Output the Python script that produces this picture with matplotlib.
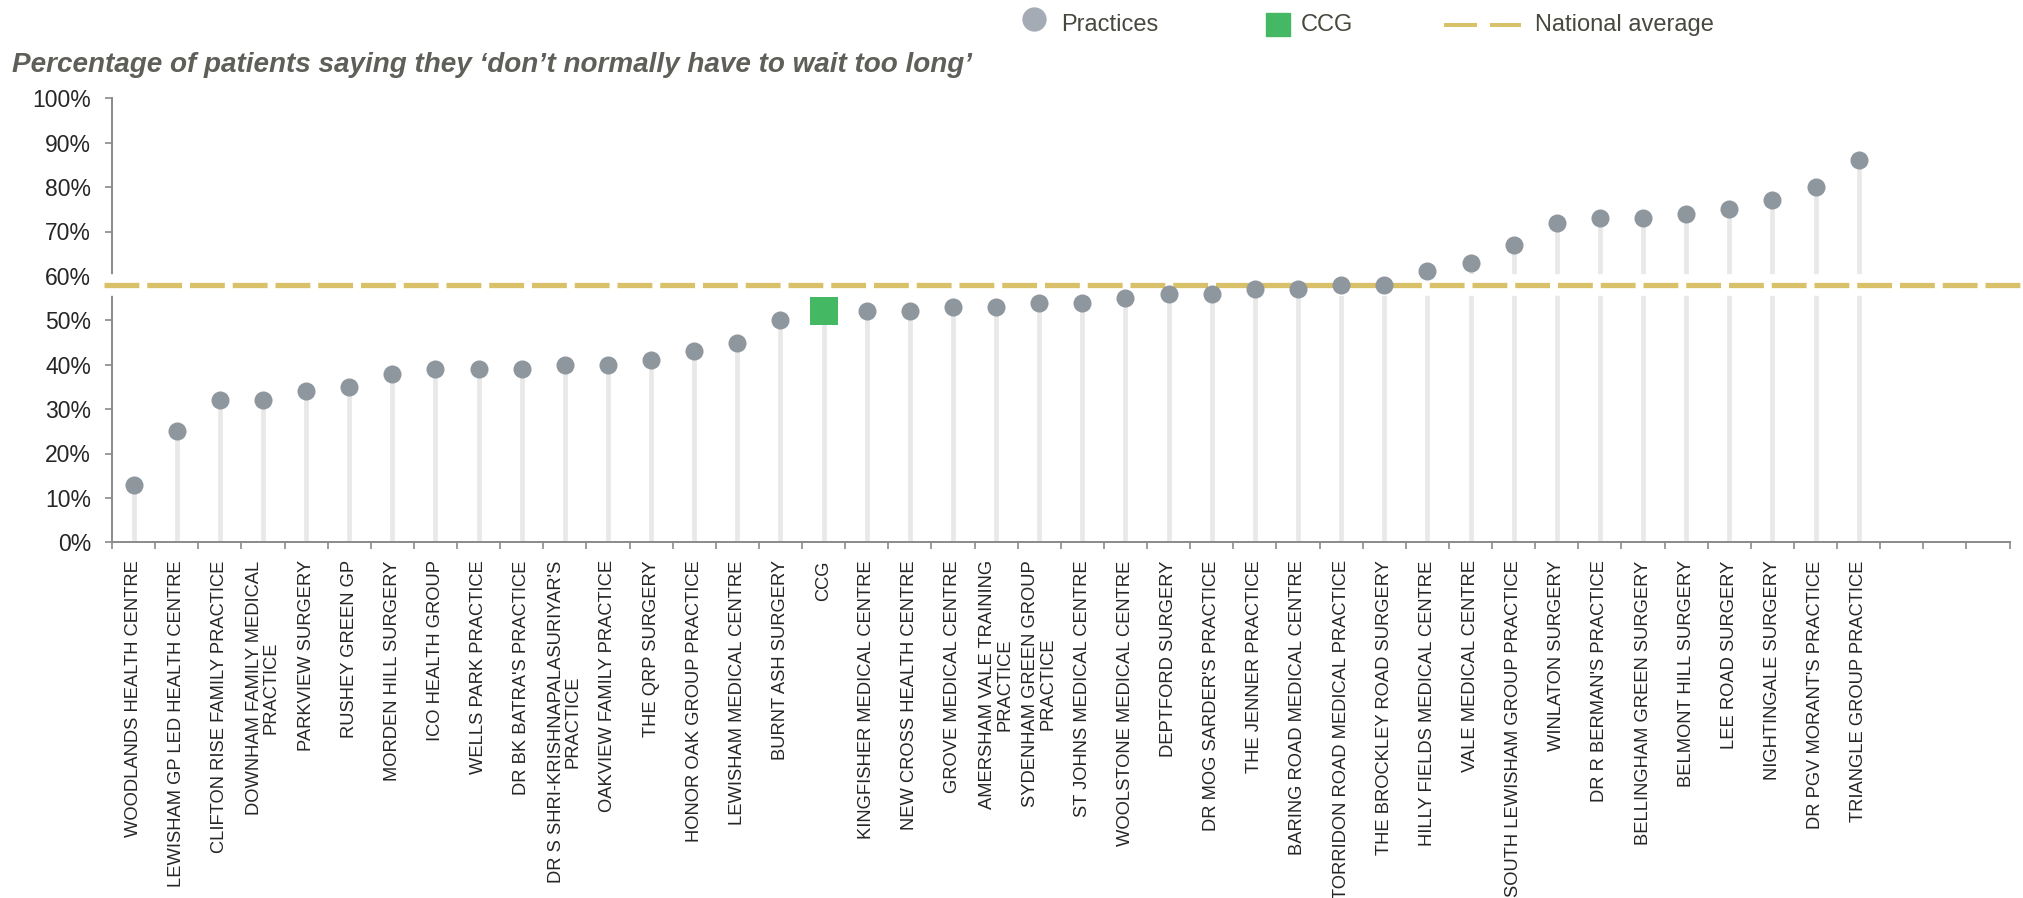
import matplotlib
matplotlib.use("Agg")
import matplotlib.pyplot as plt
from matplotlib.lines import Line2D
from matplotlib.patches import Rectangle

plt.rcParams['font.family'] = ['Liberation Sans', 'DejaVu Sans']

# data (percent)
practices = [
    "WOODLANDS HEALTH CENTRE",
    "LEWISHAM GP LED HEALTH CENTRE",
    "CLIFTON RISE FAMILY PRACTICE",
    "DOWNHAM FAMILY MEDICAL\nPRACTICE",
    "PARKVIEW SURGERY",
    "RUSHEY GREEN GP",
    "MORDEN HILL SURGERY",
    "ICO HEALTH GROUP",
    "WELLS PARK PRACTICE",
    "DR BK BATRA'S PRACTICE",
    "DR S SHRI-KRISHNAPALASURIYAR'S\nPRACTICE",
    "OAKVIEW FAMILY PRACTICE",
    "THE QRP SURGERY",
    "HONOR OAK GROUP PRACTICE",
    "LEWISHAM MEDICAL CENTRE",
    "BURNT ASH SURGERY",
    "CCG",
    "KINGFISHER MEDICAL CENTRE",
    "NEW CROSS HEALTH CENTRE",
    "GROVE MEDICAL CENTRE",
    "AMERSHAM VALE TRAINING\nPRACTICE",
    "SYDENHAM GREEN GROUP\nPRACTICE",
    "ST JOHNS MEDICAL CENTRE",
    "WOOLSTONE MEDICAL CENTRE",
    "DEPTFORD SURGERY",
    "DR MOG SARDER'S PRACTICE",
    "THE JENNER PRACTICE",
    "BARING ROAD MEDICAL CENTRE",
    "TORRIDON ROAD MEDICAL PRACTICE",
    "THE BROCKLEY ROAD SURGERY",
    "HILLY FIELDS MEDICAL CENTRE",
    "VALE MEDICAL CENTRE",
    "SOUTH LEWISHAM GROUP PRACTICE",
    "WINLATON SURGERY",
    "DR R BERMAN'S PRACTICE",
    "BELLINGHAM GREEN SURGERY",
    "BELMONT HILL SURGERY",
    "LEE ROAD SURGERY",
    "NIGHTINGALE SURGERY",
    "DR PGV MORANT'S PRACTICE",
    "TRIANGLE GROUP PRACTICE",
]
values = [13, 25, 32, 32, 34, 35, 38, 39, 39, 39, 40, 40, 41, 43, 45, 50, 52,
          52, 52, 53, 53, 54, 54, 55, 56, 56, 57, 57, 58, 58, 61, 63, 67, 72,
          73, 73, 74, 75, 77, 80, 86]
national_average = 58
n_slots = 44  # axis has three empty category slots at the end

title = "Percentage of patients saying they \u2018don\u2019t normally have to wait too long\u2019"

grey_dot = '#8e969e'
stem_col = '#e8e8e8'
ccg_green = '#44b862'
gold = '#d9c169'
axis_col = '#8a8a8a'
text_col = '#262626'
legend_text = '#48483f'

fig = plt.figure(figsize=(20.24, 8.98), dpi=100)
ax = fig.add_axes([112 / 2024, 1 - 542.3 / 898, 1897.6 / 2024, 444 / 898])

x = list(range(len(practices)))
xp = [i for i in x if practices[i] != 'CCG']
yp = [values[i] for i in xp]
xc = [i for i in x if practices[i] == 'CCG']
yc = [values[i] for i in xc]

# stems
ax.vlines(x, 0, values, color=stem_col, lw=3.4, zorder=1)

# national average: white halo then dashed gold line
ax.axhline(national_average, xmin=-0.0044, xmax=1.008, color='white', lw=15.6,
           zorder=2.6, clip_on=False)
ax.axhline(national_average, xmin=-0.0044, xmax=1.008, color=gold, lw=3.8,
           dashes=(6.6, 1.5), zorder=2.7, clip_on=False)

ax.plot(xp, yp, 'o', ms=13, color=grey_dot, mew=0, zorder=5, clip_on=False)
ax.plot(xc, yc, 's', ms=20.5, color=ccg_green, mew=0, zorder=5, clip_on=False)

ax.set_xlim(-0.5, n_slots - 0.5)
ax.set_ylim(0, 100)
ax.set_yticks(range(0, 101, 10))
ax.set_yticklabels([f"{v}%" for v in range(0, 101, 10)], fontsize=16.5, color=text_col)
ax.set_xticks(x)
ax.set_xticklabels(practices, rotation=90, fontsize=13.2, color=text_col,
                   linespacing=1.0)
for t in ax.get_xticklabels():
    t.set_multialignment('center')
ax.set_xticks([i - 0.5 for i in range(n_slots + 1)], minor=True)
ax.tick_params(axis='x', which='major', length=0, pad=13)
ax.tick_params(axis='x', which='minor', length=5, width=1.2, color=axis_col)
ax.tick_params(axis='y', length=5, width=1.2, color=axis_col, pad=10)

for s in ['top', 'right']:
    ax.spines[s].set_visible(False)
for s in ['left', 'bottom']:
    ax.spines[s].set_color(axis_col)
    ax.spines[s].set_linewidth(1.4)

fig.text(12 / 2024, 1 - 72 / 898, title, fontsize=20.1, fontweight='bold',
         fontstyle='italic', color='#5f5f5a', ha='left', va='baseline')


# legend drawn in figure pixels
def fx(px):
    return px / 2024


def fy(py):
    return 1 - py / 898


leg_y = 25
fig.add_artist(Line2D([fx(1034)], [fy(19)], marker='o', ms=17.5, color='#a4abb5',
                      mew=0, transform=fig.transFigure))
fig.text(fx(1061), fy(leg_y), "Practices", fontsize=17, color=legend_text, va='center')
fig.add_artist(Rectangle((fx(1266), fy(36)), fx(24), 23 / 898, color=ccg_green,
                         transform=fig.transFigure))
fig.text(fx(1301), fy(leg_y), "CCG", fontsize=17, color=legend_text, va='center')
fig.add_artist(Line2D([fx(1444), fx(1521)], [fy(leg_y), fy(leg_y)], color=gold,
                      lw=2.9, dashes=(8.2, 3.2), transform=fig.transFigure))
fig.text(fx(1535), fy(leg_y), "National average", fontsize=17, color=legend_text,
         va='center')

fig.savefig('out.png', dpi=100)
